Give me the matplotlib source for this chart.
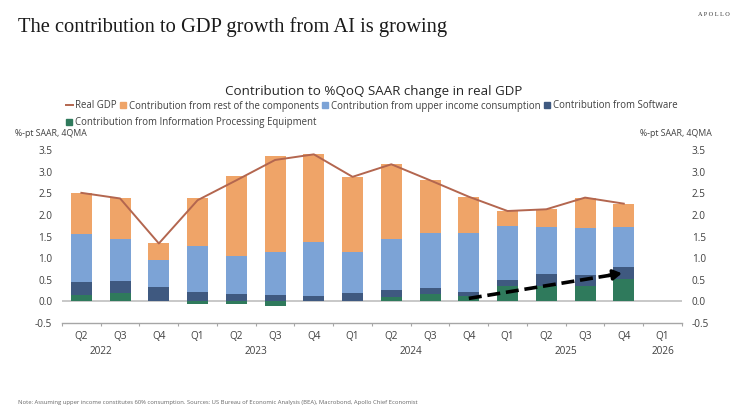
import matplotlib
matplotlib.use('Agg')
import matplotlib.pyplot as plt
from matplotlib.lines import Line2D
import matplotlib.transforms as mtransforms
import numpy as np

quarters = ['Q2', 'Q3', 'Q4', 'Q1', 'Q2', 'Q3', 'Q4', 'Q1', 'Q2', 'Q3', 'Q4',
            'Q1', 'Q2', 'Q3', 'Q4', 'Q1']
years = ['2022', '2023', '2024', '2025', '2026']
year_centers = [0.5, 4.5, 8.5, 12.5, 15]

# contributions, %-pt SAAR 4QMA (Q1 2026 has no data)
ipe = [0.14, 0.19, 0.01, -0.06, -0.07, -0.10, 0.01, 0.02, 0.10, 0.16, 0.12,
       0.35, 0.36, 0.36, 0.51, np.nan]
software = [0.32, 0.29, 0.32, 0.21, 0.16, 0.14, 0.11, 0.17, 0.16, 0.15, 0.10,
            0.14, 0.27, 0.25, 0.29, np.nan]
upper_income = [1.09, 0.96, 0.62, 1.07, 0.89, 1.00, 1.25, 0.95, 1.19, 1.28, 1.37,
                1.25, 1.09, 1.08, 0.91, np.nan]
rest = [0.95, 0.96, 0.39, 1.12, 1.85, 2.22, 2.04, 1.74, 1.72, 1.21, 0.83,
        0.35, 0.41, 0.71, 0.55, np.nan]
real_gdp = [2.51, 2.38, 1.34, 2.34, 2.80, 3.27, 3.40, 2.88, 3.17, 2.80, 2.42,
            2.09, 2.13, 2.40, 2.26, np.nan]

# dashed trend arrow (x index, value)
arrow_start = (10.0, 0.07)
arrow_end = (13.95, 0.65)

c_rest = '#EFA468'
c_upper = '#7CA3D6'
c_soft = '#3F5980'
c_ipe = '#2F7A5C'
c_gdp = '#B3664F'
c_txt = '#404040'

plt.rcParams['font.family'] = ['Open Sans', 'DejaVu Sans']

fig = plt.figure(figsize=(7.38, 4.11), dpi=100)
ax = fig.add_axes([0.084, 0.214, 0.840, 0.421])

x = np.arange(len(quarters))
w = 0.54
ipe_a = np.array(ipe)
soft_a = np.array(software)
up_a = np.array(upper_income)
rest_a = np.array(rest)

# negative IPE hangs below zero, positive parts stack up from zero
ipe_pos = np.where(ipe_a > 0, ipe_a, 0)
ax.bar(x, ipe_a, w, color=c_ipe, zorder=2)
base = ipe_pos.copy()
ax.bar(x, soft_a, w, bottom=base, color=c_soft, zorder=2)
base = base + soft_a
ax.bar(x, up_a, w, bottom=base, color=c_upper, zorder=2)
base = base + up_a
ax.bar(x, rest_a, w, bottom=base, color=c_rest, zorder=2)

ax.plot(x, real_gdp, color=c_gdp, lw=1.4, zorder=3)

ax.axhline(0, color='#BFBFBF', lw=1.2, zorder=1)

# trend arrow
ax.plot([arrow_start[0], arrow_end[0] - 0.2],
        [arrow_start[1], arrow_end[1] - 0.03],
        color='black', lw=2.6, ls=(0, (3.6, 1.6)), zorder=4)
ax.annotate('', xy=arrow_end, xytext=(arrow_end[0] - 0.35, arrow_end[1] - 0.05),
            arrowprops=dict(arrowstyle='-|>,head_length=0.5,head_width=0.3',
                            color='black', lw=2.4, shrinkA=0, shrinkB=0),
            zorder=4)

ax.set_xlim(-0.5, 15.5)
ax.set_ylim(-0.5, 3.5)
ax.set_yticks(np.arange(-0.5, 3.51, 0.5))
ax.set_yticklabels([f'{v:.1f}' for v in np.arange(-0.5, 3.51, 0.5)])
ax.tick_params(axis='y', length=0, labelsize=7.2, colors=c_txt,
               left=False, right=False, labelleft=True, labelright=True, pad=7)

ax.set_xticks(x)
ax.set_xticklabels(quarters)
ax.tick_params(axis='x', length=0, labelsize=7.2, colors=c_txt, pad=6)
ax.set_xticks(np.arange(-0.5, 15.6, 1), minor=True)
ax.tick_params(axis='x', which='minor', length=2.5, color='#A6A6A6', width=0.8)

for s in ['top', 'left', 'right']:
    ax.spines[s].set_visible(False)
ax.spines['bottom'].set_color('#A6A6A6')
ax.spines['bottom'].set_linewidth(1.0)

trans = mtransforms.blended_transform_factory(ax.transData, fig.transFigure)
for yr, xc in zip(years, year_centers):
    ax.text(xc, 1 - 351 / 411, yr, transform=trans, ha='center', va='center',
            fontsize=7.2, color=c_txt)

# axis unit labels
fig.text(15 / 738, 1 - 133 / 411, '%-pt SAAR, 4QMA', fontsize=6.3, color=c_txt,
         ha='left', va='center')
fig.text(712 / 738, 1 - 133 / 411, '%-pt SAAR, 4QMA', fontsize=6.3, color=c_txt,
         ha='right', va='center')

# chart title and legend
fig.text(374 / 738, 1 - 92 / 411, 'Contribution to %QoQ SAAR change in real GDP',
         fontsize=9.6, color='#262626', ha='center', va='center')

handles1 = [Line2D([0], [0], color=c_gdp, lw=1.4),
            Line2D([0], [0], marker='s', ls='none', color=c_rest, markersize=4.3),
            Line2D([0], [0], marker='s', ls='none', color=c_upper, markersize=4.3),
            Line2D([0], [0], marker='s', ls='none', color=c_soft, markersize=4.3)]
labels1 = ['Real GDP', 'Contribution from rest of the components',
           'Contribution from upper income consumption', 'Contribution from Software']
leg1 = fig.legend(handles1, labels1, ncol=4, loc='center left',
                  bbox_to_anchor=(66 / 738, 1 - 106 / 411), frameon=False,
                  fontsize=6.95, handlelength=0.7, handletextpad=0.25,
                  columnspacing=0.3, borderaxespad=0, borderpad=0)
for t in leg1.get_texts():
    t.set_color(c_txt)
handles2 = [Line2D([0], [0], marker='s', ls='none', color=c_ipe, markersize=4.3)]
leg2 = fig.legend(handles2, ['Contribution from Information Processing Equipment'],
                  loc='center left', bbox_to_anchor=(66 / 738, 1 - 123 / 411),
                  frameon=False, fontsize=6.95, handlelength=0.7,
                  handletextpad=0.25, borderaxespad=0, borderpad=0)
for t in leg2.get_texts():
    t.set_color(c_txt)

# page header and footnote
fig.text(18 / 738, 1 - 27 / 411, 'The contribution to GDP growth from AI is growing',
         fontsize=14.8, family=['Liberation Serif', 'DejaVu Serif'], color='#1a1a1a',
         ha='left', va='center')
fig.text(730 / 738, 1 - 14 / 411, 'A P O L L O', fontsize=4.5,
         family=['Liberation Serif', 'DejaVu Serif'], color='#333333',
         ha='right', va='center')
fig.text(18 / 738, 1 - 402 / 411,
         'Note: Assuming upper income constitutes 60% consumption. Sources: US Bureau of '
         'Economic Analysis (BEA), Macrobond, Apollo Chief Economist',
         fontsize=4.2, color='#666666', ha='left', va='center')

fig.savefig('out.png', dpi=100, facecolor='white')
